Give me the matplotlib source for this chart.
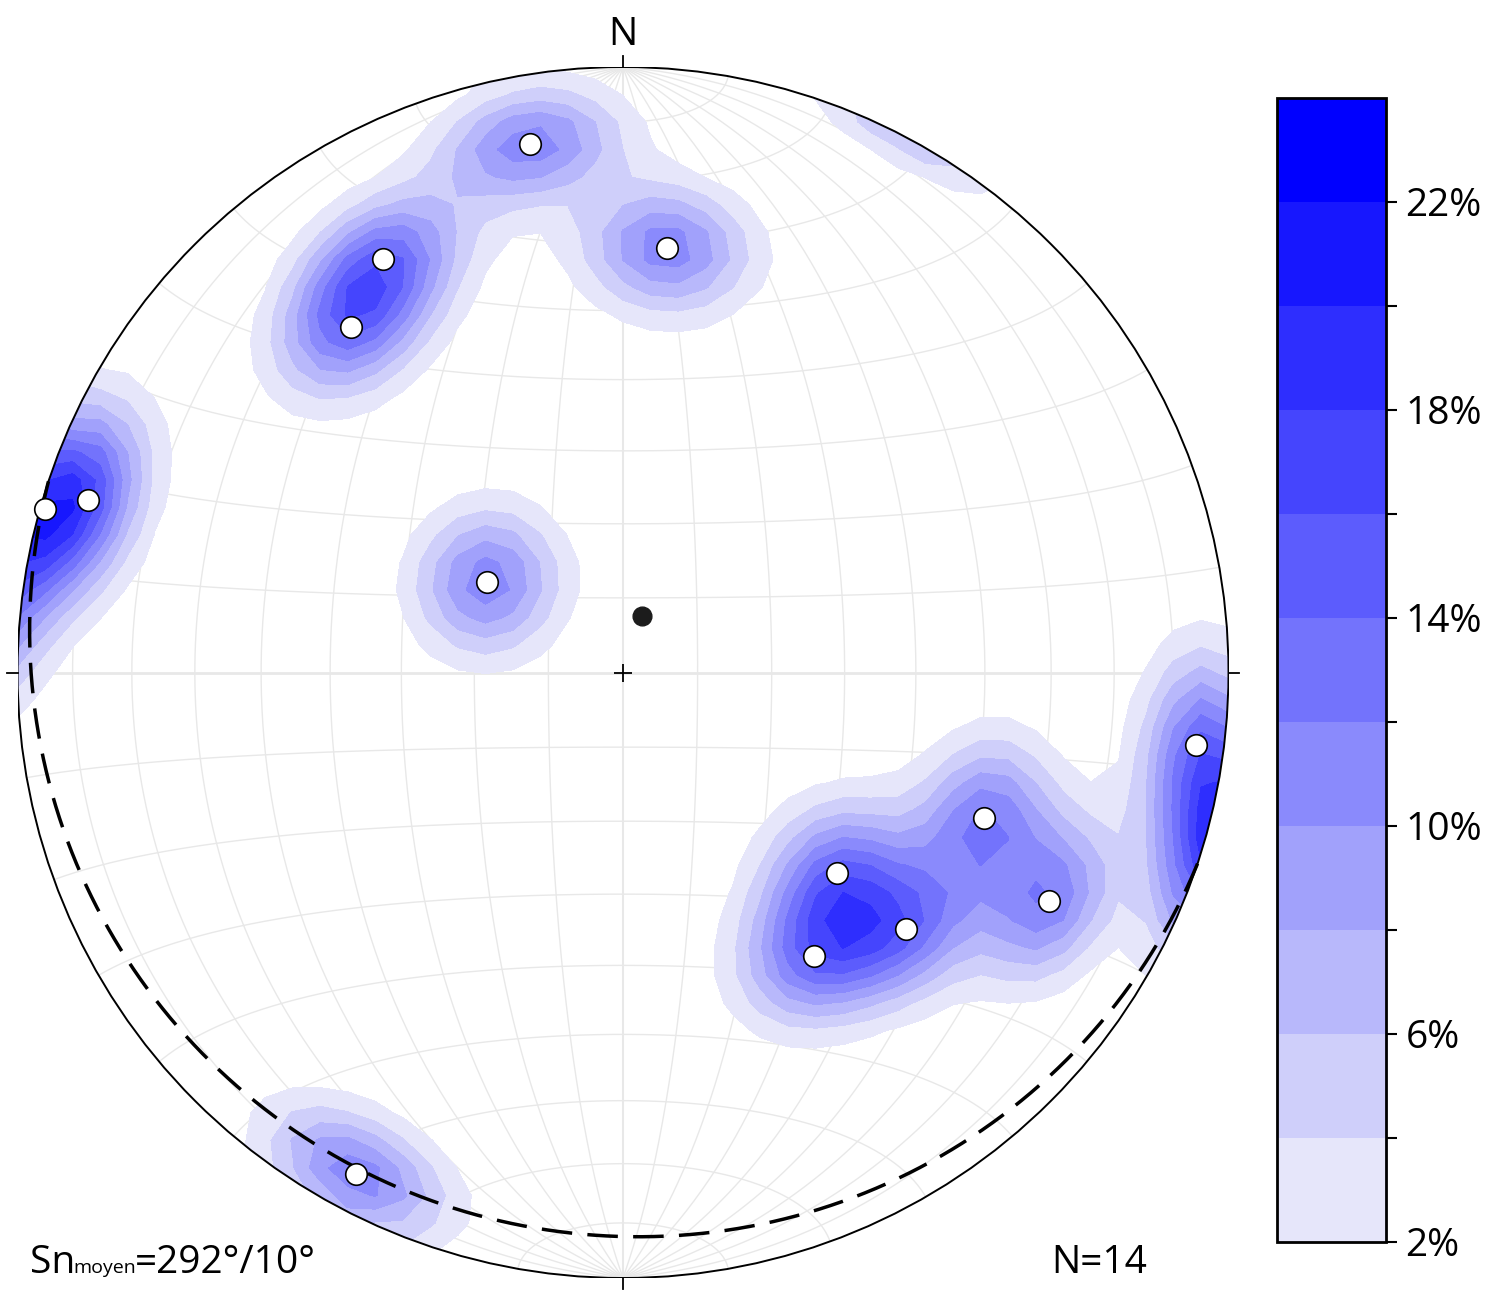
import numpy as np
import matplotlib
matplotlib.use('Agg')
import matplotlib.pyplot as plt
from matplotlib.patches import Circle

plt.rcParams['font.family'] = ['Open Sans', 'DejaVu Sans']
plt.rcParams['lines.scale_dashes'] = False

# poles to Sn (trend, plunge), lower hemisphere, degrees
trend  = [350.0, 5.9, 329.9, 321.8, 287.9, 285.8, 303.8,
          97.2, 112.0, 133.2, 132.2, 118.2, 146.1, 208.0]
plunge = [12.4, 30.2, 22.1, 28.2, 8.0, 1.0, 68.0,
          5.1, 35.9, 49.9, 37.0, 21.2, 42.9, 6.9]

# mean pole
mean_trend, mean_plunge = 18.4, 82.0

levels = [2, 4, 6, 8, 10, 12, 14, 16, 18, 20, 22, 24]
colors = ['#e6e6fa', '#cfcffa', '#b8b8fb', '#a1a1fb', '#8a8afc', '#7373fc',
          '#5c5cfd', '#4545fd', '#2e2efe', '#1717fe', '#0000ff']
tick_labels = ['2%', '', '6%', '', '10%', '', '14%', '', '18%', '', '22%']

KAPPA = 78.0   # kernel concentration
PEAK = 11.5    # percent under an isolated pole
NGRID = 45


def vec(t, p):
    t = np.radians(t); p = np.radians(p)
    return np.cos(p) * np.sin(t), np.cos(p) * np.cos(t), np.sin(p)


def proj(e, n, d):
    e, n, d = np.asarray(e), np.asarray(n), np.asarray(d)
    s = np.where(d < 0, -1.0, 1.0)
    e, n, d = e * s, n * s, d * s
    f = np.sqrt(1 + d)
    return e / f, n / f


W, H = 1499, 1297
fig = plt.figure(figsize=(W / 100, H / 100), dpi=100)
cx, cy, R = 623, 672.5, 605.5
ax = fig.add_axes([(cx - R) / W, (H - cy - R) / H, 2 * R / W, 2 * R / H])
ax.set_xlim(-1, 1); ax.set_ylim(-1, 1)
ax.set_aspect('equal')
ax.axis('off')

# net grid (Schmidt)
gcol = '#e8e8e8'
s = np.linspace(0, np.pi, 300)
for dip in range(10, 90, 10):
    dr = np.radians(dip)
    for sgn in (-1, 1):
        e = np.sin(s) * sgn * np.cos(dr)
        n = np.cos(s)
        d = np.sin(s) * np.sin(dr)
        x, y = proj(e, n, d)
        ax.plot(x, y, color=gcol, lw=1.0, zorder=1)
for a in range(10, 180, 10):
    if a == 90:
        continue
    ar = np.radians(a)
    e = np.sin(ar) * np.cos(s)
    n = np.full_like(s, np.cos(ar))
    d = np.sin(ar) * np.sin(s)
    x, y = proj(e, n, d)
    ax.plot(x, y, color=gcol, lw=1.0, zorder=1)
ax.plot([-1, 1], [0, 0], color=gcol, lw=2.0, zorder=1)
ax.plot([0, 0], [-1, 1], color=gcol, lw=1.5, zorder=1)

# density of poles (axial data)
g = np.linspace(-1, 1, NGRID)
X, Y = np.meshgrid(g, g)
rr = np.hypot(X, Y)
sc = np.where(rr > 1, 1 / np.maximum(rr, 1e-9), 1.0)
Xc, Yc = X * sc, Y * sc
dg = 1 - (Xc ** 2 + Yc ** 2)
fg = np.sqrt(1 + dg)
ge, gn = Xc * fg, Yc * fg
pe, pn, pd = vec(np.array(trend), np.array(plunge))
dens = np.zeros_like(X)
for i in range(len(trend)):
    c = np.abs(ge * pe[i] + gn * pn[i] + dg * pd[i])
    dens += np.exp(KAPPA * (c - 1))
pct = np.clip(PEAK * dens, 0, 23.9)

prim = Circle((0, 0), 1, transform=ax.transData)
cs = ax.contourf(X, Y, pct, levels=levels, colors=colors, zorder=2)
cs.set_clip_path(prim)

ax.add_patch(Circle((0, 0), 1, fill=False, ec='black', lw=1.4, zorder=4))

# mean plane great circle
st = mean_trend + 90
ae, an, ad = vec(st, 0)
be, bn, bd = vec(mean_trend + 180, 90 - mean_plunge)
e = np.cos(s) * ae + np.sin(s) * be
n = np.cos(s) * an + np.sin(s) * bn
d = np.cos(s) * ad + np.sin(s) * bd
x, y = proj(e, n, d)
ax.plot(x, y, color='black', lw=2.5, dashes=(22, 11), zorder=5)

# poles
x, y = proj(pe, pn, pd)
ax.plot(x, y, 'o', mfc='white', mec='black', ms=15.5, mew=1.2, zorder=6)
mx, my = proj(*vec(mean_trend, mean_plunge))
ax.plot(mx, my, 'o', color='#1c1c1c', ms=13.5, zorder=6)

# ticks and centre cross
t = 0.018
ax.plot([0, 0], [1, 1 + t], color='black', lw=1.3, clip_on=False)
ax.plot([0, 0], [-1, -1 - t], color='black', lw=1.3, clip_on=False)
ax.plot([-1, -1 - t], [0, 0], color='black', lw=1.3, clip_on=False)
ax.plot([1, 1 + t], [0, 0], color='black', lw=1.3, clip_on=False)
ax.plot(0, 0, marker='+', ms=13, mew=1.3, color='black', zorder=6)

# texts
fs = 28
fig.text(cx / W, 1 - 45 / H, 'N', ha='center', va='baseline', fontsize=fs)
fig.text(30 / W, 1 - 1273 / H, 'Sn', ha='left', va='baseline', fontsize=fs)
fig.text(73 / W, 1 - 1273 / H, 'moyen', ha='left', va='baseline', fontsize=14)
fig.text(135 / W, 1 - 1273 / H, '=292°/10°', ha='left', va='baseline', fontsize=fs)
fig.text(1099 / W, 1 - 1273 / H, 'N=14', ha='center', va='baseline', fontsize=fs)

# colorbar
cax = fig.add_axes([1277 / W, (H - 1242) / H, 109 / W, (1242 - 98) / H])
cb = fig.colorbar(cs, cax=cax, ticks=levels[:-1])
cb.ax.set_yticklabels(tick_labels)
cb.outline.set_linewidth(2)
cax.tick_params(length=8, width=1.5, labelsize=fs, pad=6)

fig.savefig('out.png', dpi=100)
